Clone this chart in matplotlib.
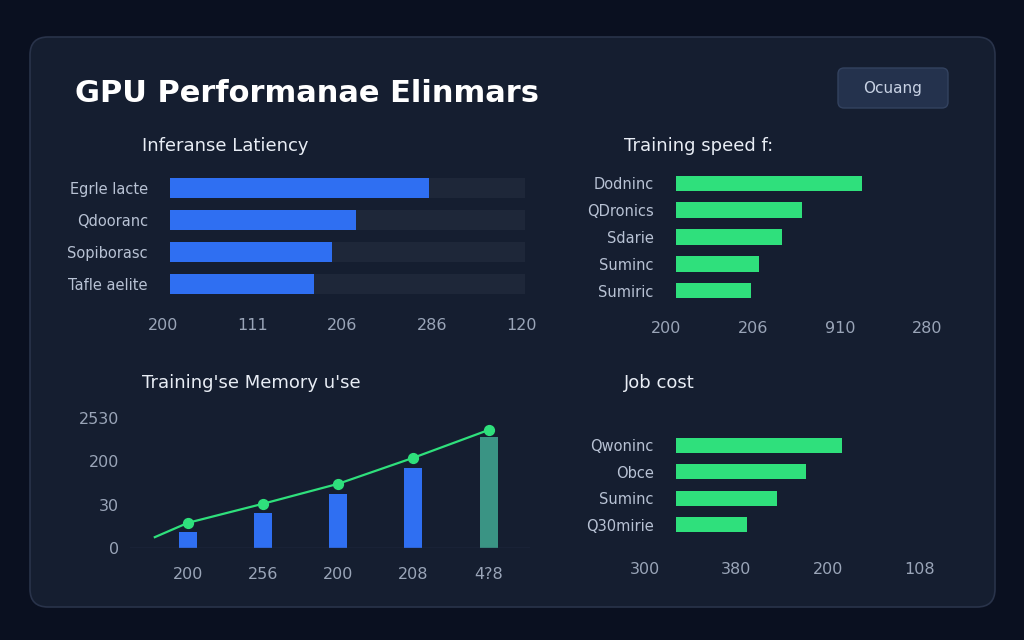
import matplotlib
matplotlib.use("Agg")
import matplotlib.pyplot as plt
from matplotlib.patches import FancyBboxPatch
import numpy as np

W, H = 1024, 640
title = "GPU Performanae Elinmars"
button = "Ocuang"

lat_cats = ["Egrle lacte", "Qdooranc", "Sopiborasc", "Tafle aelite"]
lat_vals = [73, 52.5, 45.5, 40.5]
lat_ticks = ["200", "111", "206", "286", "120"]

spd_cats = ["Dodninc", "QDronics", "Sdarie", "Suminc", "Sumiric"]
spd_vals = [72, 48.5, 41, 32, 29]
spd_ticks = ["200", "206", "910", "280"]

mem_x = ["200", "256", "200", "208", "4?8"]
mem_bars = [0.37, 0.81, 1.25, 1.85, 2.56]
mem_line = [0.58, 1.02, 1.48, 2.08, 2.72]
mem_yticks = ["0", "30", "200", "2530"]

cost_cats = ["Qwoninc", "Obce", "Suminc", "Q30mirie"]
cost_vals = [64, 50, 39, 27.5]
cost_ticks = ["300", "380", "200", "108"]

BG = "#0a1020"; CARD = "#151e30"; BLUE = "#2f6ff2"; GREEN = "#2fe07c"
TXT = "#e8edf5"; TICK = "#9aa5b8"

fig = plt.figure(figsize=(W/100, H/100), dpi=100, facecolor=BG)
def fx(x): return x / W
def fy(y): return 1 - y / H
def axbox(x0, y0, x1, y1):
    return fig.add_axes([fx(x0), fy(y1), fx(x1) - fx(x0), fy(y0) - fy(y1)])

bgax = fig.add_axes([0, 0, 1, 1]); bgax.set_xlim(0, W); bgax.set_ylim(H, 0); bgax.axis("off")
bgax.add_patch(FancyBboxPatch((30, 37), 965, 570, boxstyle="round,pad=0,rounding_size=18",
                              fc=CARD, ec="#29334a", lw=1.2))
bgax.add_patch(FancyBboxPatch((838, 68), 110, 40, boxstyle="round,pad=0,rounding_size=6",
                              fc="#24324d", ec="#33425f", lw=1))
bgax.text(893, 89, button, color="#c8d2e4", fontsize=11, ha="center", va="center")
bgax.text(75, 93, title, color="white", fontsize=22, fontweight="bold", va="center")
for x, y, t in [(142, 146, "Inferanse Latiency"), (624, 146, "Training speed f:"),
                (142, 383, "Training'se Memory u'se"), (624, 383, "Job cost")]:
    bgax.text(x, y, t, color=TXT, fontsize=13, va="center")

def style(ax):
    ax.set_facecolor("none")
    for s in ax.spines.values(): s.set_visible(False)
    ax.tick_params(colors=TICK, length=0, labelsize=11.5)

def hbars(ax, cats, vals, ticks, tickpos, color, track=False, h=0.62, ylab=-0.22):
    style(ax)
    y = np.arange(len(cats))
    if track:
        ax.barh(y, [100]*len(cats), height=h, color="#1e2739")
    ax.barh(y, vals, height=h, color=color)
    ax.set_xticks([])
    ax.set_ylim(len(cats) - 0.5, -0.5)
    ax.set_xlim(0, 100)
    ax.set_yticks(y, cats, fontsize=10.5, color="#b8c2d4")
    ax.tick_params(axis="y", pad=16)
    tr = ax.get_xaxis_transform()
    for p, t in zip(tickpos, ticks):
        ax.text(p, ylab, t, transform=tr, color=TICK, fontsize=11.5,
                ha="center", va="center", clip_on=False)

ax1 = axbox(170, 172, 525, 300)
hbars(ax1, lat_cats, lat_vals, lat_ticks, np.linspace(-2, 99, 5), BLUE, track=True, ylab=-0.2)

ax2 = axbox(676, 170, 935, 304)
hbars(ax2, spd_cats, spd_vals, spd_ticks, np.linspace(-4, 97, 4), GREEN, h=0.58, ylab=-0.18)

ax4 = axbox(676, 432, 935, 538)
hbars(ax4, cost_cats, cost_vals, cost_ticks, np.linspace(-12, 94, 4), GREEN, h=0.58, ylab=-0.3)

ax3 = axbox(130, 410, 530, 548)
style(ax3)
x = np.arange(len(mem_bars))
cols = [BLUE]*4 + ["#3a9484"]
ax3.bar(x, mem_bars, width=0.24, color=cols)
lx = np.concatenate([[-0.44], x]); ly = np.concatenate([[0.25], mem_line])
ax3.plot(lx, ly, color=GREEN, lw=1.6)
ax3.scatter(x, mem_line, color=GREEN, s=50, zorder=3)
ax3.axhline(0, color="#2a3550", lw=1)
ax3.set_yticks(range(4), mem_yticks)
ax3.set_xticks(x, mem_x)
ax3.set_xlim(-0.77, 4.55); ax3.set_ylim(0, 3.18)
ax3.tick_params(axis="x", pad=14); ax3.tick_params(axis="y", pad=8)

fig.savefig("out.png", dpi=100, facecolor=BG)
